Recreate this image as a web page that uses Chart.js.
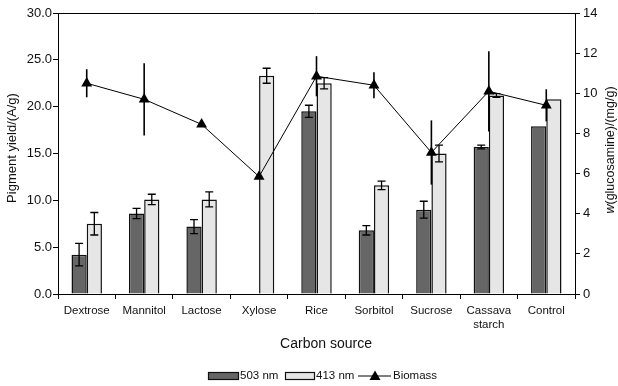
<!DOCTYPE html>
<html>
<head>
<meta charset="utf-8">
<script src="https://cdn.jsdelivr.net/npm/chart.js@4/dist/chart.umd.min.js"></script>
<style>
  html, body { margin: 0; padding: 0; background: #fff; }
  #wrap { width: 618px; height: 386px; position: relative; }
</style>
</head>
<body>
<div id="wrap"><canvas id="c" width="618" height="386"></canvas></div>
<script>
const categories = ['Dextrose', 'Mannitol', 'Lactose', 'Xylose', 'Rice', 'Sorbitol', 'Sucrose', ['Cassava', 'starch'], 'Control'];
const yield503 = [4.2, 8.6, 7.2, null, 19.5, 6.8, 9.0, 15.7, 17.9];
const err503 = [1.2, 0.55, 0.75, 0, 0.65, 0.5, 0.9, 0.2, 0];
const yield413 = [7.5, 10.1, 10.1, 23.3, 22.5, 11.6, 15.0, 21.2, 20.8];
const err413 = [1.2, 0.55, 0.8, 0.8, 0.6, 0.45, 0.9, 0.2, 0];
const biomass = [10.5, 9.7, 8.45, 5.85, 10.85, 10.4, 7.05, 10.1, 9.4];
const errBiomass = [0.7, 1.8, 0, 0, 1.0, 0.65, 1.6, 2.0, 0.8];
const leftTicks = [0, 5, 10, 15, 20, 25, 30];
const rightTicks = [0, 2, 4, 6, 8, 10, 12, 14];

const FONT = "'Liberation Sans', Arial, sans-serif";
const DARK = '#666666';
const LIGHT = '#e6e6e6';

const errorBarPlugin = {
  id: 'errorBars',
  afterDatasetsDraw(chart) {
    const ctx = chart.ctx;
    chart.data.datasets.forEach((ds, di) => {
      const errs = ds.errors;
      if (!errs) return;
      const meta = chart.getDatasetMeta(di);
      const scale = chart.scales[ds.yAxisID];
      ctx.save();
      ctx.strokeStyle = '#000';
      ctx.lineWidth = ds.type === 'line' ? 1.6 : 1.3;
      meta.data.forEach((el, i) => {
        const v = ds.data[i];
        const e = errs[i];
        if (v == null || !e) return;
        const x = el.x;
        const yt = scale.getPixelForValue(v + e);
        const yb = scale.getPixelForValue(v - e);
        ctx.beginPath();
        ctx.moveTo(x, yt); ctx.lineTo(x, yb);
        if (ds.type !== 'line') {
          ctx.moveTo(x - 4, yt); ctx.lineTo(x + 4, yt);
          ctx.moveTo(x - 4, yb); ctx.lineTo(x + 4, yb);
        }
        ctx.stroke();
      });
      ctx.restore();
    });
  }
};

const decorPlugin = {
  id: 'decor',
  afterDraw(chart) {
    const ctx = chart.ctx;
    const a = chart.chartArea;
    ctx.save();
    // top frame line
    ctx.strokeStyle = '#000';
    ctx.lineWidth = 1;
    ctx.beginPath();
    ctx.moveTo(a.left, a.top + 0.5);
    ctx.lineTo(a.right, a.top + 0.5);
    ctx.stroke();

    ctx.fillStyle = '#111';
    // left title
    ctx.save();
    ctx.translate(12.5, 148);
    ctx.rotate(-Math.PI / 2);
    ctx.font = '13px ' + FONT;
    ctx.textAlign = 'center';
    ctx.textBaseline = 'middle';
    ctx.fillText('Pigment yield/(A/g)', 0, 0);
    ctx.restore();

    // right title with italic w
    ctx.save();
    ctx.translate(611, 150);
    ctx.rotate(-Math.PI / 2);
    ctx.textBaseline = 'middle';
    const fItal = 'italic 12.5px ' + FONT;
    const fReg = '12.5px ' + FONT;
    ctx.font = fItal; const w1 = ctx.measureText('w').width;
    ctx.font = fReg; const w2 = ctx.measureText('(glucosamine)/(mg/g)').width;
    const start = -(w1 + w2) / 2;
    ctx.textAlign = 'left';
    ctx.font = fItal; ctx.fillText('w', start, 0);
    ctx.font = fReg; ctx.fillText('(glucosamine)/(mg/g)', start + w1, 0);
    ctx.restore();

    // x title
    ctx.font = '14px ' + FONT;
    ctx.textAlign = 'center';
    ctx.textBaseline = 'middle';
    ctx.fillText('Carbon source', 326, 344);

    // legend
    const ly = 376;
    ctx.font = '11.5px ' + FONT;
    ctx.textAlign = 'left';
    ctx.textBaseline = 'middle';
    const ds = chart.data.datasets;
    const bar1 = ds.find(d => d.label === '503 nm');
    const bar2 = ds.find(d => d.label === '413 nm');
    const line = ds.find(d => d.label === 'Biomass');
    ctx.lineWidth = 1.2;
    ctx.strokeStyle = '#111';
    ctx.fillStyle = bar1.backgroundColor;
    ctx.fillRect(208, ly - 3.5, 31, 7);
    ctx.strokeRect(208.5, ly - 3.5, 30, 7);
    ctx.fillStyle = '#111';
    ctx.fillText(bar1.label, 240, ly);
    ctx.fillStyle = bar2.backgroundColor;
    ctx.fillRect(285, ly - 3.5, 30, 7);
    ctx.strokeRect(285.5, ly - 3.5, 29, 7);
    ctx.fillStyle = '#111';
    ctx.fillText(bar2.label, 316, ly);
    ctx.strokeStyle = '#000';
    ctx.lineWidth = 1;
    ctx.beginPath();
    ctx.moveTo(358, ly); ctx.lineTo(391, ly);
    ctx.stroke();
    ctx.fillStyle = '#000';
    ctx.beginPath();
    ctx.moveTo(375, ly - 5.5); ctx.lineTo(380.5, ly + 4); ctx.lineTo(369.5, ly + 4);
    ctx.closePath(); ctx.fill();
    ctx.fillStyle = '#111';
    ctx.fillText(line.label, 393, ly);
    ctx.restore();
  }
};

new Chart(document.getElementById('c'), {
  data: {
    labels: categories,
    datasets: [
      {
        type: 'line', label: 'Biomass', data: biomass, errors: errBiomass, yAxisID: 'y2', order: 0,
        borderColor: '#000', borderWidth: 1, backgroundColor: '#000',
        pointStyle: 'triangle', pointRadius: 6.3, pointBackgroundColor: '#000', pointBorderWidth: 0,
        tension: 0
      },
      {
        type: 'bar', label: '503 nm', data: yield503, errors: err503, yAxisID: 'y', order: 1,
        backgroundColor: DARK, borderColor: '#111', borderWidth: 1.5
      },
      {
        type: 'bar', label: '413 nm', data: yield413, errors: err413, yAxisID: 'y', order: 1,
        backgroundColor: LIGHT, borderColor: '#111', borderWidth: 1.5
      }
    ]
  },
  options: {
    responsive: false,
    animation: false,
    devicePixelRatio: 1,
    layout: { padding: { top: 13, left: 0, right: 0, bottom: 0 } },
    datasets: { bar: { categoryPercentage: 0.53, barPercentage: 1.0 } },
    plugins: { legend: { display: false }, tooltip: { enabled: false }, title: { display: false } },
    scales: {
      x: {
        offset: true,
        grid: { display: true, drawOnChartArea: false, offset: true, tickLength: 5, color: '#000' },
        border: { display: true, color: '#000', width: 1 },
        ticks: { color: '#111', font: { family: FONT, size: 11.5 }, padding: 5, maxRotation: 0, autoSkip: false },
        afterFit(s) { s.height = 92; }
      },
      y: {
        position: 'left', min: 0, max: 30,
        afterBuildTicks(s) { s.ticks = leftTicks.map(v => ({ value: v })); },
        grid: { display: true, drawOnChartArea: false, tickLength: 5, color: '#000' },
        border: { display: true, color: '#000', width: 1 },
        ticks: { color: '#111', font: { family: FONT, size: 13 }, padding: 1, callback: v => Number(v).toFixed(1) },
        afterFit(s) { s.width = 58; }
      },
      y2: {
        position: 'right', min: 0, max: 14,
        afterBuildTicks(s) { s.ticks = rightTicks.map(v => ({ value: v })); },
        grid: { display: true, drawOnChartArea: false, tickLength: 5, color: '#000' },
        border: { display: true, color: '#000', width: 1 },
        ticks: { color: '#111', font: { family: FONT, size: 13 }, padding: 3 },
        afterFit(s) { s.width = 43; }
      }
    }
  },
  plugins: [errorBarPlugin, decorPlugin]
});
</script>
</body>
</html>
